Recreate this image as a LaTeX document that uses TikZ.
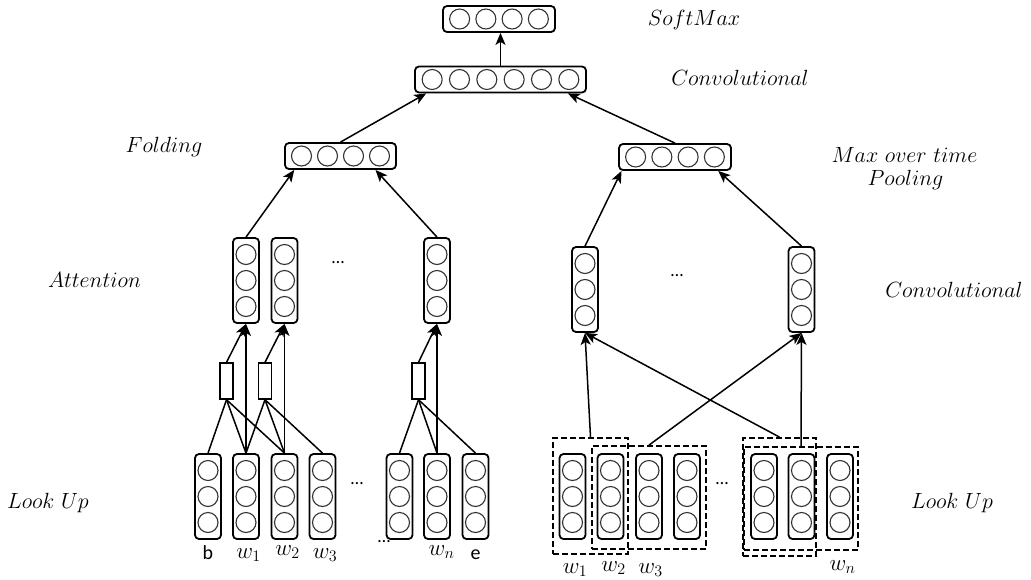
\RequirePackage{fix-cm}
\documentclass[tikz,border=0pt]{standalone}
\usepackage{fontspec}
\newfontfamily\carl{Carlito}
\usepackage{graphicx}
\usetikzlibrary{arrows.meta,calc}
\newcommand\lbl[1]{$#1$}
\newcommand\colvec[3]{%
  \node[vbox, minimum width=26pt, minimum height=85pt] (#1) at (#2,#3) {};
  \foreach \k in {-26,0,26} \draw[cell] (#2,{#3+\k}) circle (10pt);
}
\newcommand\rowvec[5]{%
  \node[vbox, minimum width=#5pt, minimum height=26pt] (#1) at (#2,#3) {};
  \pgfmathsetmacro\vpitch{(#5-7)/#4}
  \foreach \k in {1,...,#4} \draw[cell] ({#2+(\k-(#4+1)/2)*\vpitch},#3) circle (10pt);
}
\begin{document}
\begin{tikzpicture}[x=1pt,y=-1pt,
 vbox/.style={draw, line width=1.8pt, rounded corners=4pt, fill=white, inner sep=0pt},
 cell/.style={draw=black!80, line width=1.1pt},
 gate/.style={draw, line width=1.4pt, fill=white, inner sep=0pt, minimum width=13pt, minimum height=36pt},
 dbox/.style={draw, line width=1.8pt, dash pattern=on 6pt off 3pt, inner sep=0pt},
 conn/.style={line width=1.5pt},
 arr/.style={conn, -{Stealth[length=12pt,width=10pt,inset=3pt]}},
 lab/.style={anchor=base, inner sep=0pt, font=\fontsize{22}{26}\selectfont},
 sym/.style={anchor=base, inner sep=0pt, font=\fontsize{23}{27}\selectfont},
 sans/.style={anchor=base, inner sep=0pt, font=\carl\fontsize{20}{24}\selectfont},
 dots/.style={anchor=base, inner sep=0pt, font=\carl\fontsize{18}{22}\selectfont}]
\useasboundingbox (0,0) rectangle (1031,579);

% stray dots behind a box
\node[dots] (dstray) at (384,542) {…};

% horizontal vectors
\rowvec{soft}{499}{19}{4}{112}
\rowvec{conv}{500.5}{79.5}{6}{171}
\rowvec{fold}{340.5}{156}{4}{111}
\rowvec{pool}{675}{157}{4}{112}

% attention vectors
\colvec{att1}{246}{280.5}
\colvec{att2}{284.5}{280.5}
\colvec{att3}{437}{280.5}

% right convolution vectors
\colvec{rc1}{585}{289.5}
\colvec{rc2}{801.5}{289.5}

% left look-up vectors
\colvec{lb}{208}{496.5}
\colvec{lw1}{246}{496.5}
\colvec{lw2}{284.5}{496.5}
\colvec{lw3}{322.5}{496.5}
\colvec{lx}{399.5}{496.5}
\colvec{lwn}{437}{496.5}
\colvec{le}{475.5}{496.5}

% right look-up vectors
\colvec{ra}{572.5}{496.5}
\colvec{rb}{610.5}{496.5}
\colvec{rcc}{649}{496.5}
\colvec{rd}{687}{496.5}
\colvec{re}{764}{496.5}
\colvec{rf}{801.5}{496.5}
\colvec{rg}{840}{496.5}

% gates
\node[gate] (g1) at (226.5,381) {};
\node[gate] (g2) at (265,381) {};
\node[gate] (g3) at (418.5,381) {};

% dashed windows
\node[dbox, minimum width=75pt, minimum height=116pt] (D1) at (590.5,496) {};
\node[dbox, minimum width=114pt, minimum height=103pt] (D2) at (649,497.5) {};
\node[dbox, minimum width=73pt, minimum height=118pt] (D3) at (779.5,497) {};
\node[dbox, minimum width=114pt, minimum height=103pt] (D4) at (801,498.5) {};

% connectors top
\draw[arr] (conv.north) -- (conv.north |- soft.south);
\draw[arr] (fold.north) -- ($(conv.south west)!.07!(conv.south east)$);
\draw[arr] (pool.north) -- ($(conv.south west)!.89!(conv.south east)$);
\draw[arr] (att1.north) -- ($(fold.south west)!.09!(fold.south east)$);
\draw[arr] (att3.north) -- ($(fold.south west)!.81!(fold.south east)$);
\draw[arr] (rc1.north) -- ($(pool.south west)!.03!(pool.south east)$);
\draw[arr] (rc2.north) -- ($(pool.south west)!.88!(pool.south east)$);

% left attention connectors
\draw[arr] (g1.north) -- (att1.south);
\draw[arr] (lw1.north) -- (att1.south);
\draw[conn] (g1.south) -- (lb.north);
\draw[conn] (g1.south) -- (lw1.north);
\draw[conn] (g1.south) -- (lw2.north);
\draw[arr] (g2.north) -- (att2.south);
\draw[arr] (lw2.north) -- (att2.south);
\draw[conn] (g2.south) -- (lw1.north);
\draw[conn] (g2.south) -- (lw2.north);
\draw[conn] (g2.south) -- (lw3.north);
\draw[arr] (g3.north) -- (att3.south);
\draw[arr] (lwn.north) -- (att3.south);
\draw[conn] (g3.south) -- (lx.north);
\draw[conn] (g3.south) -- (lwn.north);
\draw[conn] (g3.south) -- (le.north);

% right convolution connectors
\draw[arr] (D1.north) -- (rc1.south);
\draw[arr] (D3.north) -- (rc1.south);
\draw[arr] (D2.north) -- (rc2.south);
\draw[arr] (D4.north) -- (rc2.south);

% dots
\node[dots] (d1) at (338,263) {…};
\node[dots] (d2) at (357,484) {…};
\node[dots] (d3) at (677,276) {…};
\node[dots] (d4) at (722,484) {…};

% layer labels
\node[lab] (tSoft) at (694,25) {\lbl{SoftMax}};
\node[lab] (tConv) at (740,85) {\lbl{Convolutional}};
\node[lab] (tFold) at (164,152) {\lbl{Folding}};
\node[lab] (tMax) at (904.5,162) {\lbl{Max\ over\ time}};
\node[lab] (tPool) at (905.5,185) {\lbl{Pooling}};
\node[lab] (tAtt) at (94.5,287) {\lbl{Attention}};
\node[lab] (tConv2) at (954,297) {\lbl{Convolutional}};
\node[lab] (tLU1) at (48,508) {\lbl{Look\ Up}};
\node[lab] (tLU2) at (952,508) {\lbl{Look\ Up}};

% word labels left
\node[sans] (tb) at (208,559) {b};
\node[sym] (tw1) at (248.5,558) {$w_1$};
\node[sym] (tw2) at (287.5,555) {$w_2$};
\node[sym] (tw3) at (325,558) {$w_3$};
\node[sym] (twn) at (441.5,555) {$w_n$};
\node[sans] (te) at (475.5,559) {e};

% word labels right
\node[sym] (rw1) at (575,573) {$w_1$};
\node[sym] (rw2) at (613.5,571) {$w_2$};
\node[sym] (rw3) at (650.5,573) {$w_3$};
\node[sym] (rwn) at (842.5,570) {$w_n$};
\end{tikzpicture}
\end{document}
